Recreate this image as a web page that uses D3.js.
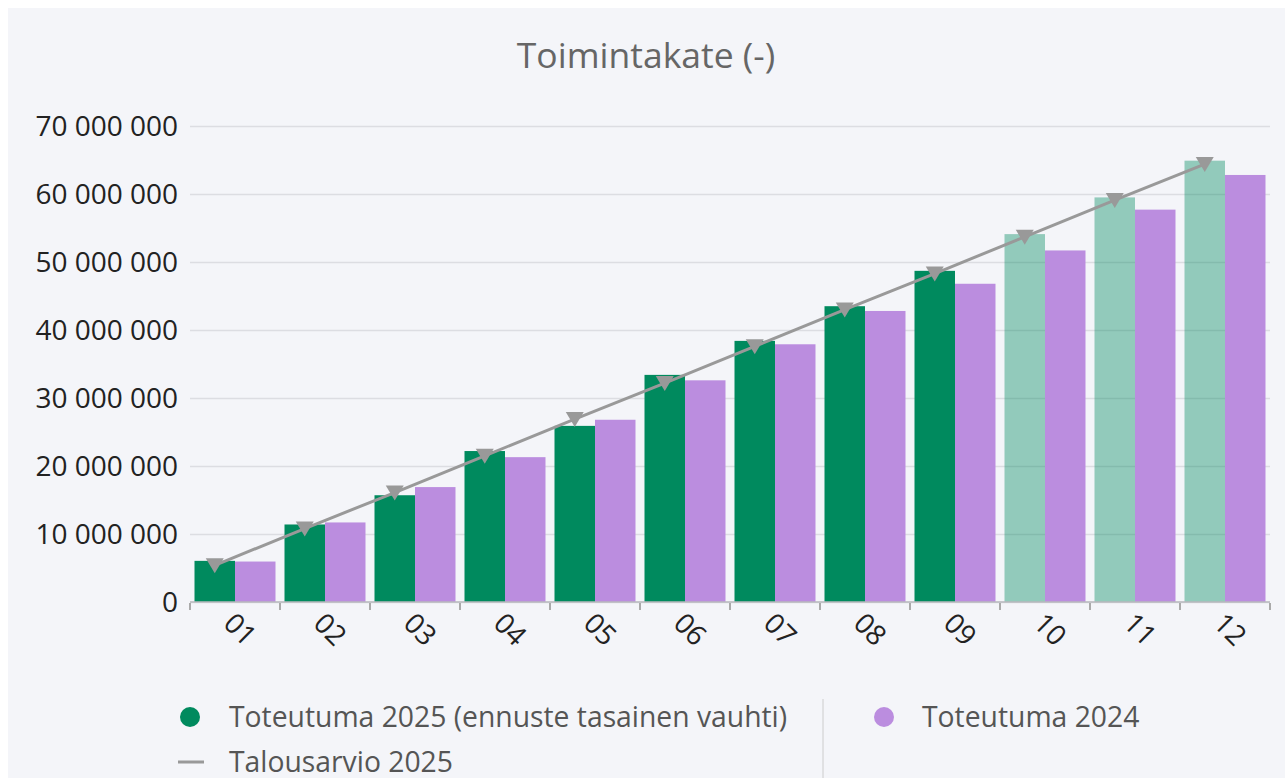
<!DOCTYPE html>
<html>
<head>
<meta charset="utf-8">
<script src="https://cdn.jsdelivr.net/npm/d3@7"></script>
<style>
  body { margin: 0; background: #fff; }
  svg { display: block; }
  svg text { font-family: "Open Sans", "Noto Sans", sans-serif; }
</style>
</head>
<body>
<svg id="chart"></svg>
<script>
// months on the x axis
const months = ["01", "02", "03", "04", "05", "06", "07", "08", "09", "10", "11", "12"];
// Toteutuma 2025 (months 10-12 are forecast)
const actual2025 = [6.05, 11.4, 15.7, 22.2, 25.9, 33.4, 38.4, 43.5, 48.7, 54.1, 59.5, 64.9].map(v => v * 1e6);
const isForecast = [false, false, false, false, false, false, false, false, false, true, true, true];
// Toteutuma 2024
const actual2024 = [5.95, 11.7, 16.9, 21.3, 26.8, 32.6, 37.9, 42.8, 46.8, 51.7, 57.7, 62.8].map(v => v * 1e6);
// Talousarvio 2025
const budget2025 = [5.4, 10.8, 16.1, 21.5, 26.9, 32.2, 37.6, 43.0, 48.3, 53.7, 59.1, 64.4].map(v => v * 1e6);
const yTicks = [0, 10e6, 20e6, 30e6, 40e6, 50e6, 60e6, 70e6];

const W = 1285, H = 778;
const margin = { left: 190, right: 15, top: 126, bottom: 176 };

const svg = d3.select("#chart").attr("width", W).attr("height", H);

// panel background
svg.append("rect").attr("x", 8).attr("y", 8).attr("width", W - 8).attr("height", H - 8)
  .attr("fill", "#f4f5f9");

const x = d3.scaleBand().domain(months)
  .range([margin.left, W - margin.right])
  .paddingInner(0.1).paddingOuter(0.05);
const x1 = d3.scaleBand().domain(["a", "b"]).range([0, x.bandwidth()]);
const y = d3.scaleLinear().domain([0, 70e6]).range([H - margin.bottom, margin.top]);

const fmt = v => d3.format(",")(v).replace(/,/g, " ");

// title
svg.append("text").attr("x", 646).attr("y", 68).attr("text-anchor", "middle")
  .attr("font-size", 35.5).attr("fill", "#666").text("Toimintakate (-)");

// grid + y labels
const yAxis = svg.append("g").attr("transform", `translate(${margin.left},0)`)
  .call(d3.axisLeft(y).tickValues(yTicks).tickFormat(fmt)
    .tickSize(-(W - margin.right - margin.left)).tickPadding(12));
yAxis.select(".domain").remove();
yAxis.selectAll(".tick line").attr("stroke", "#dcdde2").attr("stroke-width", 1.5);
yAxis.selectAll(".tick text").attr("font-size", 28).attr("fill", "#222").attr("dy", "0.34em");

// bars
const groups = svg.append("g").selectAll("g").data(months).join("g")
  .attr("transform", d => `translate(${x(d)},0)`);

groups.append("rect")
  .attr("x", x1("a")).attr("width", x1.bandwidth())
  .attr("y", (d, i) => y(actual2025[i]))
  .attr("height", (d, i) => y(0) - y(actual2025[i]))
  .attr("fill", "#008a5e")
  .attr("fill-opacity", (d, i) => isForecast[i] ? 0.4 : 1);

groups.append("rect")
  .attr("x", x1("b")).attr("width", x1.bandwidth())
  .attr("y", (d, i) => y(actual2024[i]))
  .attr("height", (d, i) => y(0) - y(actual2024[i]))
  .attr("fill", "#bb8ddf");

// x axis
const xAxisG = svg.append("g").attr("transform", `translate(0,${y(0)})`);
xAxisG.append("line").attr("x1", margin.left).attr("x2", W - margin.right)
  .attr("stroke", "#b8b9be").attr("stroke-width", 1.5);
const boundaries = months.map(m => x(m) - x.step() * x.paddingInner() / 2)
  .concat([W - margin.right]);
xAxisG.selectAll(".tk").data(boundaries).join("line")
  .attr("x1", d => d).attr("x2", d => d).attr("y1", 1).attr("y2", 8)
  .attr("stroke", "#aaa").attr("stroke-width", 2);
xAxisG.selectAll(".lbl").data(months).join("text")
  .attr("transform", d => `translate(${x(d) + x.bandwidth() / 2 - 13},${23}) rotate(45)`)
  .attr("font-size", 28).attr("fill", "#222").text(d => d);

// budget line
const lineX = (d, i) => x(months[i]) + x1("a") + x1.bandwidth() / 2;
svg.append("path").datum(budget2025)
  .attr("d", d3.line().x(lineX).y(d => y(d)))
  .attr("fill", "none").attr("stroke", "#999").attr("stroke-width", 3);
svg.append("g").selectAll("path").data(budget2025).join("path")
  .attr("d", "M-9,-7L9,-7L0,8Z")
  .attr("transform", (d, i) => `translate(${lineX(d, i)},${y(d)})`)
  .attr("fill", "#999");

// legend
const lg = svg.append("g").attr("font-size", 28.3).attr("fill", "#555");
lg.append("circle").attr("cx", 190).attr("cy", 717).attr("r", 10).attr("fill", "#008a5e");
lg.append("text").attr("x", 229).attr("y", 727).text("Toteutuma 2025 (ennuste tasainen vauhti)");
lg.append("line").attr("x1", 823).attr("x2", 823).attr("y1", 699).attr("y2", 778)
  .attr("stroke", "#ccc").attr("stroke-width", 1);
lg.append("circle").attr("cx", 884).attr("cy", 717).attr("r", 10).attr("fill", "#bb8ddf");
lg.append("text").attr("x", 922).attr("y", 727).text("Toteutuma 2024");
lg.append("line").attr("x1", 178).attr("x2", 204).attr("y1", 762).attr("y2", 762)
  .attr("stroke", "#999").attr("stroke-width", 3);
lg.append("text").attr("x", 229).attr("y", 772).text("Talousarvio 2025");
</script>
</body>
</html>
